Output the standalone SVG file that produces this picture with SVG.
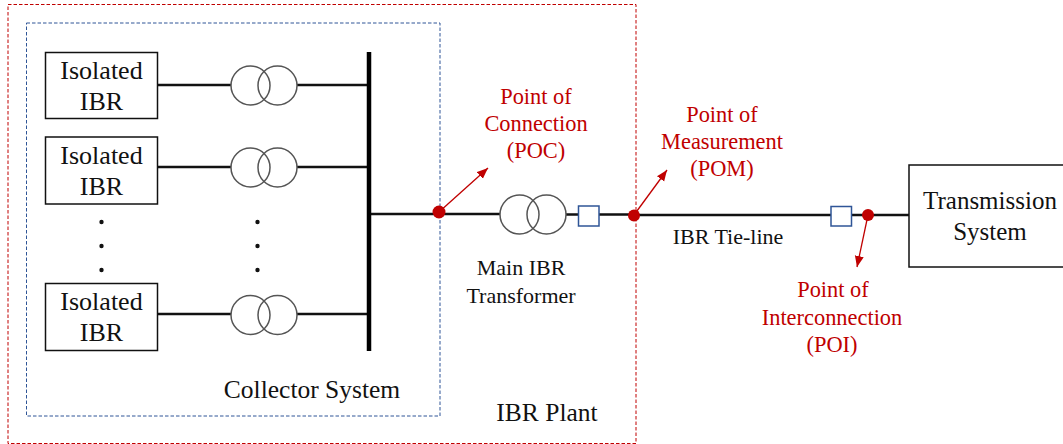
<svg xmlns="http://www.w3.org/2000/svg" width="1063" height="444" viewBox="0 0 1063 444">
<style>
text{font-family:"Liberation Serif","Times New Roman",serif;text-anchor:middle;fill:#111}
.big{font-size:26px}.tx{font-size:25px}.mid{font-size:25.500px}.sm{font-size:22px}
.red{fill:#c00000;font-size:22.400px}
.box{fill:#fff;stroke:#111;stroke-width:1.5}
.w{fill:none;stroke:#111;stroke-width:2.5}
.coil{fill:none;stroke:#555;stroke-width:1.5}
.brk{fill:#fff;stroke:#2f5597;stroke-width:1.5}
.arrow{fill:none;stroke:#c00000;stroke-width:1.3;marker-end:url(#ah)}
.dot{fill:#c00000}
.k{fill:#111}
</style>
<defs>
<marker id="ah" markerUnits="userSpaceOnUse" markerWidth="12" markerHeight="10" refX="11" refY="4.5" orient="auto"><path d="M0 0L11 4.5L0 9Z" fill="#c00000"/></marker>
<g id="xf"><circle class="coil" cx="-13.5" cy="0" r="19.5"/><circle class="coil" cx="13.5" cy="0" r="19.5"/></g>
</defs>
<g id="plant-boundary"><rect x="8" y="4.500" width="628" height="439" fill="none" stroke="#c00000" stroke-width="1" stroke-dasharray="3.500 2"/><text class="mid" x="547" y="421">IBR Plant</text></g>
<g id="collector-boundary"><rect x="26.500" y="23" width="413.500" height="393" fill="none" stroke="#2f5597" stroke-width="1" stroke-dasharray="3.500 2"/><text class="mid" x="312" y="398">Collector System</text></g>
<g id="connectors">
<path class="w" d="M157 85H231M297 85H369M157 167H231M297 167H369M157 314H231M297 314H369M369 214H500M566 214.500H578M599 214.500H634M634 215H831M851 215H909"/>
<path d="M369 52V351" fill="none" stroke="#000" stroke-width="4.500"/>
<path class="arrow" d="M439 212L488 168"/>
<path class="arrow" d="M634 215L667 170"/>
<path class="arrow" d="M868 215L857 267"/>
</g>
<g id="ibr1"><rect class="box" x="45.500" y="52.500" width="112" height="66"/><text class="big" x="101.500" y="79">Isolated</text><text class="big" x="101.500" y="110">IBR</text></g>
<g id="ibr2"><rect class="box" x="45.500" y="137" width="112" height="67"/><text class="big" x="101.500" y="164">Isolated</text><text class="big" x="101.500" y="195">IBR</text></g>
<g id="ibr3"><rect class="box" x="45.500" y="283.500" width="112" height="67"/><text class="big" x="101.500" y="310">Isolated</text><text class="big" x="101.500" y="341">IBR</text></g>
<g id="dots-ibr"><circle class="k" cx="101.500" cy="222" r="2.200"/><circle class="k" cx="101.500" cy="246" r="2.200"/><circle class="k" cx="101.500" cy="270" r="2.200"/></g>
<g id="dots-xf"><circle class="k" cx="257.500" cy="222" r="2.200"/><circle class="k" cx="257.500" cy="246" r="2.200"/><circle class="k" cx="257.500" cy="270" r="2.200"/></g>
<g id="xf1"><use href="#xf" x="264" y="85.500"/></g>
<g id="xf2"><use href="#xf" x="264" y="167.500"/></g>
<g id="xf3"><use href="#xf" x="264" y="315"/></g>
<g id="main-xf"><use href="#xf" x="533" y="214.500"/><text class="sm" x="521" y="275">Main IBR</text><text class="sm" x="521" y="303">Transformer</text></g>
<g id="breaker1"><rect class="brk" x="578.500" y="206" width="20.500" height="20"/></g>
<g id="breaker2"><rect class="brk" x="831" y="206.500" width="20.500" height="19.500"/></g>
<g id="poc"><circle class="dot" cx="439" cy="212" r="6.500"/><text class="red" x="536" y="104">Point of</text><text class="red" x="536" y="131">Connection</text><text class="red" x="536" y="158">(POC)</text></g>
<g id="pom"><circle class="dot" cx="634" cy="215.500" r="6"/><text class="red" x="722" y="122">Point of</text><text class="red" x="722" y="149">Measurement</text><text class="red" x="722" y="176">(POM)</text></g>
<g id="poi"><circle class="dot" cx="868" cy="215" r="6"/><text class="red" x="833" y="297">Point of</text><text class="red" x="832" y="325">Interconnection</text><text class="red" x="832" y="352">(POI)</text></g>
<g id="tie-line-label"><text class="sm" x="728" y="244">IBR Tie-line</text></g>
<g id="transmission"><rect class="box" x="909" y="165" width="160" height="102"/><text class="tx" x="990" y="209">Transmission</text><text class="tx" x="990" y="240">System</text></g>
</svg>
